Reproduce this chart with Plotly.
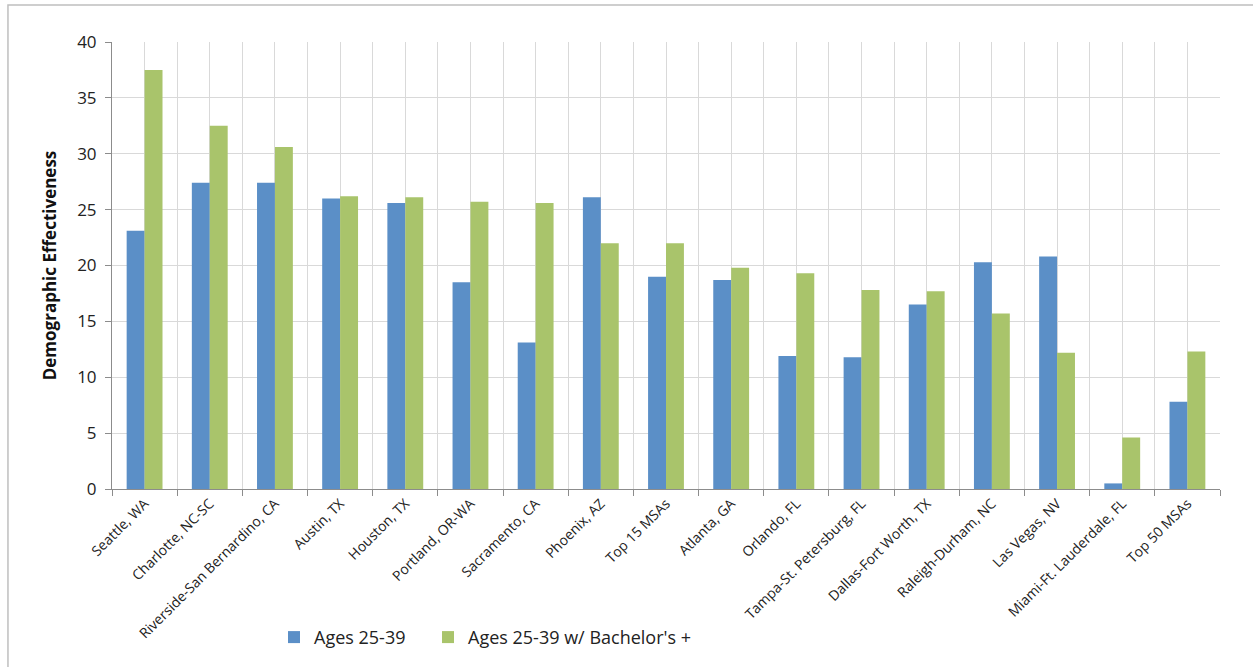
import plotly.graph_objects as go

categories = ["Seattle, WA", "Charlotte, NC-SC", "Riverside-San Bernardino, CA", "Austin, TX",
              "Houston, TX", "Portland, OR-WA", "Sacramento, CA", "Phoenix, AZ", "Top 15 MSAs",
              "Atlanta, GA", "Orlando, FL", "Tampa-St. Petersburg, FL", "Dallas-Fort Worth, TX",
              "Raleigh-Durham, NC", "Las Vegas, NV", "Miami-Ft. Lauderdale, FL", "Top 50 MSAs"]
ages_25_39 = [23.1, 27.4, 27.4, 26.0, 25.6, 18.5, 13.1, 26.1, 19.0, 18.7, 11.9, 11.8, 16.5, 20.3, 20.8, 0.5, 7.8]
ages_25_39_ba = [37.5, 32.5, 30.6, 26.2, 26.1, 25.7, 25.6, 22.0, 22.0, 19.8, 19.3, 17.8, 17.7, 15.7, 12.2, 4.6, 12.3]
y_ticks = [0, 5, 10, 15, 20, 25, 30, 35, 40]

xpos = list(range(len(categories)))
FONT = "'Open Sans', sans-serif"

fig = go.Figure()
fig.add_trace(go.Bar(x=xpos, y=ages_25_39, name="Ages 25-39", marker_color="#5B8FC7",
                     marker_line_width=0, legend="legend"))
fig.add_trace(go.Bar(x=xpos, y=ages_25_39_ba, name="Ages 25-39 w/ Bachelor's +",
                     marker_color="#A9C46B", marker_line_width=0, legend="legend2"))

leg_common = dict(orientation="h", y=-0.329, xanchor="left", yanchor="middle",
                  font=dict(size=18, family=FONT, color="#222222"),
                  itemwidth=30, bgcolor="rgba(0,0,0,0)")

fig.update_layout(
    width=1253, height=667,
    margin=dict(l=112, r=33, t=42, b=177),
    paper_bgcolor="white", plot_bgcolor="white",
    barmode="group", bargap=0.45, bargroupgap=0,
    font=dict(family=FONT, color="#222222"),
    showlegend=True,
    legend=dict(x=(274 - 112) / 1108, **leg_common),
    legend2=dict(x=(428 - 112) / 1108, **leg_common),
    xaxis=dict(
        range=[-0.5, len(categories) - 0.5],
        tickmode="array", tickvals=xpos, ticktext=categories,
        tickangle=-45, tickfont=dict(size=14, family=FONT, color="#222222"),
        ticks="", showgrid=True, gridcolor="#d9d9d9", gridwidth=1,
        showline=True, linecolor="#8c8c8c", linewidth=1,
        minor=dict(tick0=-0.5, dtick=1, ticks="outside", ticklen=6, tickcolor="#8c8c8c",
                   showgrid=True, gridcolor="#d9d9d9", gridwidth=1),
        zeroline=False, fixedrange=True,
    ),
    yaxis=dict(
        range=[0, 40], tickmode="array", tickvals=y_ticks,
        tickfont=dict(size=17, family=FONT, color="#222222"),
        ticks="outside", ticklen=6, tickcolor="#8c8c8c", ticklabelstandoff=5,
        showgrid=True, gridcolor="#d9d9d9", gridwidth=1,
        showline=True, linecolor="#8c8c8c", linewidth=1, zeroline=False,
        title=dict(text="<b>Demographic Effectiveness</b>", standoff=16,
                   font=dict(size=17, family=FONT, color="#111111")),
    ),
    shapes=[dict(type="rect", xref="paper", yref="paper",
                 x0=-0.0939, x1=1.2, y0=-0.6, y1=1.0826,
                 line=dict(color="#bfbfbf", width=1.5), fillcolor="rgba(0,0,0,0)", layer="below")],
)

fig.write_html("out.html")
